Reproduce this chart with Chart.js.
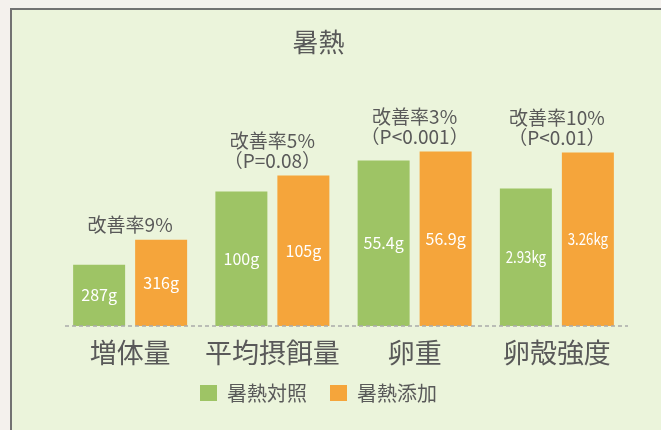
<!DOCTYPE html>
<html><head><meta charset="utf-8">
<script src="https://cdn.jsdelivr.net/npm/chart.js@4"></script>
<style>
html,body{margin:0;padding:0;}
body{width:661px;height:430px;background:#f4f1ed;position:relative;overflow:hidden;}
#frame{position:absolute;left:10px;top:8px;right:0;bottom:0;background:#ebf4db;border-left:2px solid #727272;border-top:2px solid #727272;}
#c{position:absolute;left:0;top:0;}
</style></head><body>
<div id="frame"></div>
<canvas id="c" width="661" height="430"></canvas>
<script>
// ---- data (bar lengths, per category scale) ----
const categories = ['増体量', '平均摂餌量', '卵重', '卵殻強度'];
const seriesNames = ['暑熱対照', '暑熱添加'];
const controlHeights = [61, 134, 165, 137];
const additiveHeights = [86, 150, 174, 173];
const controlLabels = ['287g', '100g', '55.4g', '2.93kg'];
const additiveLabels = ['316g', '105g', '56.9g', '3.26kg'];
const improvementText = ['改善率9%', '改善率5%', '改善率3%', '改善率10%'];
const pValueText = ['', '（P=0.08）', '（P<0.001）', '（P<0.01）'];
const titleText = '暑熱';

const FONT = '"Noto Sans CJK JP", "Noto Sans", sans-serif';
const TEXT = '#595959';
const GREEN = '#9ec465';
const ORANGE = '#f5a53b';
const CENTER_X = 318.5;
const LEGEND_DY = -20;

const annot = {
  id: 'annot',
  afterLayout(chart) {
    [chart.titleBlock, chart.legend].forEach(b => {
      if (!b) return;
      const dx = CENTER_X - (b.left + b.right) / 2;
      b.left += dx; b.right += dx;
    });
    if (chart.legend) { chart.legend.top += LEGEND_DY; chart.legend.bottom += LEGEND_DY; }
  },
  afterDatasetsDraw(chart) {
    const ctx = chart.ctx;
    const area = chart.chartArea;
    const y0 = chart.scales.y.getPixelForValue(0);
    // dashed baseline
    ctx.save();
    ctx.strokeStyle = '#ababab';
    ctx.lineWidth = 1.5;
    ctx.setLineDash([4, 3]);
    ctx.beginPath();
    ctx.moveTo(area.left + 6, y0);
    ctx.lineTo(area.right, y0);
    ctx.stroke();
    ctx.restore();

    const m0 = chart.getDatasetMeta(0), m1 = chart.getDatasetMeta(1);
    [[m0, controlLabels], [m1, additiveLabels]].forEach(([m, labels]) => {
      m.data.forEach((el, i) => {
        const t = labels[i];
        ctx.save();
        ctx.translate(el.x, (el.y + el.base) / 2);
        if (t.endsWith('kg')) ctx.scale(0.83, 1);
        ctx.font = '16px ' + FONT;
        ctx.fillStyle = '#ffffff';
        ctx.textAlign = 'center';
        ctx.textBaseline = 'middle';
        ctx.fillText(t, 0, 0);
        ctx.restore();
      });
    });
    ctx.save();
    ctx.font = '19px ' + FONT;
    ctx.fillStyle = TEXT;
    ctx.textAlign = 'center';
    ctx.textBaseline = 'middle';
    categories.forEach((c, i) => {
      const a = m0.data[i], b = m1.data[i];
      const cx = (a.x + b.x) / 2;
      const top = Math.min(a.y, b.y);
      const lines = [improvementText[i], pValueText[i]].filter(Boolean);
      lines.forEach((t, k) => ctx.fillText(t, cx, top - 14.5 - (lines.length - 1 - k) * 20));
    });
    ctx.restore();
  }
};

new Chart(document.getElementById('c'), {
  type: 'bar',
  data: {
    labels: categories,
    datasets: [
      { label: seriesNames[0], data: controlHeights, backgroundColor: GREEN, borderWidth: 0 },
      { label: seriesNames[1], data: additiveHeights, backgroundColor: ORANGE, borderWidth: 0 }
    ]
  },
  options: {
    responsive: false,
    animation: false,
    events: [],
    layout: { padding: { left: 59, right: 33, top: 0, bottom: -3 } },
    datasets: { bar: { categoryPercentage: 0.8717, barPercentage: 0.8387 } },
    scales: {
      x: {
        grid: { display: false, drawTicks: false },
        border: { display: false },
        ticks: { color: TEXT, padding: 14.85, font: { family: FONT, size: 27, lineHeight: 0.9 } }
      },
      y: { display: false, min: 0, max: 247 }
    },
    plugins: {
      title: { display: true, text: titleText, color: TEXT, font: { family: FONT, size: 26, weight: 'normal' }, padding: { top: 27, bottom: 20 } },
      legend: {
        position: 'bottom',
        labels: { boxWidth: 17, boxHeight: 16, padding: 23, color: TEXT, font: { family: FONT, size: 20 } }
      },
      tooltip: { enabled: false }
    }
  },
  plugins: [annot]
});
</script>
</body></html>
